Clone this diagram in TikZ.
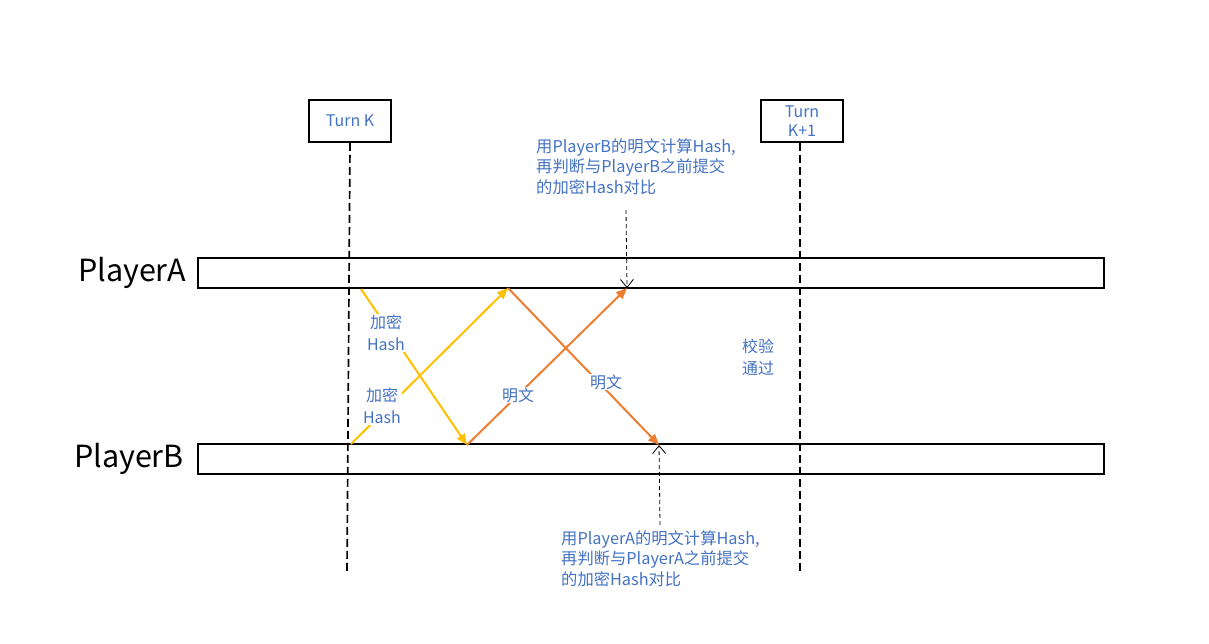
\documentclass[tikz,border=0pt]{standalone}
\usepackage{fontspec}
\setmainfont{Noto Sans CJK SC}
\usetikzlibrary{arrows.meta}
\definecolor{txtblue}{HTML}{4472C4}
\definecolor{yel}{HTML}{FFC000}
\definecolor{org}{HTML}{ED7D31}
\begin{document}
\begin{tikzpicture}[x=1pt,y=-1pt,
  turnbox/.style={draw,line width=1.6pt,minimum width=82pt,minimum height=42pt,inner sep=0pt,text=txtblue,align=center,font=\fontsize{16}{19}\selectfont},
  bar/.style={draw,line width=1.8pt,minimum width=906pt,minimum height=30pt,inner sep=0pt},
  player/.style={anchor=east,font=\fontsize{30.5}{34}\selectfont,inner sep=0pt},
  lifeline/.style={line width=1.7pt,dash pattern=on 8pt off 4pt},
  msg/.style={line width=2pt,-{Triangle[length=11pt,width=9pt]}},
  lbl/.style={fill=white,text=txtblue,align=center,inner sep=1pt,font=\fontsize{16}{22}\selectfont},
  note/.style={text=txtblue,align=left,anchor=north west,inner sep=0pt,font=\fontsize{16.3}{20.5}\selectfont},
  check/.style={line width=0.8pt,dash pattern=on 4pt off 3pt,-{Straight Barb[length=8pt,width=13pt]}}]
\useasboundingbox (0,0) rectangle (1209,643);
% turn boxes
\node[turnbox] (tk) at (350,121) {Turn K};
\node[turnbox] (tk1) at (802,121) {Turn\\K+1};
\coordinate (tkend) at (347,572);
\coordinate (tk1end) at (800,572);
\draw[lifeline] (tk.south) -- (tkend);
\draw[lifeline] (tk1.south) ++(-2,0) -- (tk1end);
% bars
\node[bar] (pa) at (651,273) {};
\node[bar] (pb) at (651,459) {};
\node[player] (pal) at (186,273) {PlayerA};
\node[player] (pbl) at (184,459) {PlayerB};
% arrow endpoints
\coordinate (a1s) at (361,289);
\coordinate (a1e) at (467,445);
\coordinate (a2s) at (351,444);
\coordinate (a2e) at (508,288);
\coordinate (a3e) at (659,445);
\coordinate (a4e) at (627,288);
% messages
\draw[msg,yel] (a1s) -- (a1e);
\draw[msg,yel] (a2s) -- (a2e);
\draw[msg,org] (a2e) -- (a3e);
\draw[msg,org] (a1e) -- (a4e);
% labels
\node[lbl] (l1) at (386,333) {加密\\Hash};
\node[lbl] (l2) at (382,406) {加密\\Hash};
\node[lbl] (l3) at (518,395) {明文};
\node[lbl] (l4) at (606,382) {明文};
\node[text=txtblue,align=center,inner sep=0pt,font=\fontsize{16}{22}\selectfont] (ok) at (758,357) {校验\\通过};
% notes
\node[note] (n1) at (536,138) {用PlayerB的明文计算Hash,\\再判断与PlayerB之前提交\\的加密Hash对比};
\node[note] (n2) at (561,530) {用PlayerA的明文计算Hash,\\再判断与PlayerA之前提交\\的加密Hash对比};
\coordinate (n1s) at (626,210);
\coordinate (n2s) at (660,525);
\draw[check] (n1s) -- (a4e);
\draw[check] (n2s) -- (a3e);
\end{tikzpicture}
\end{document}
